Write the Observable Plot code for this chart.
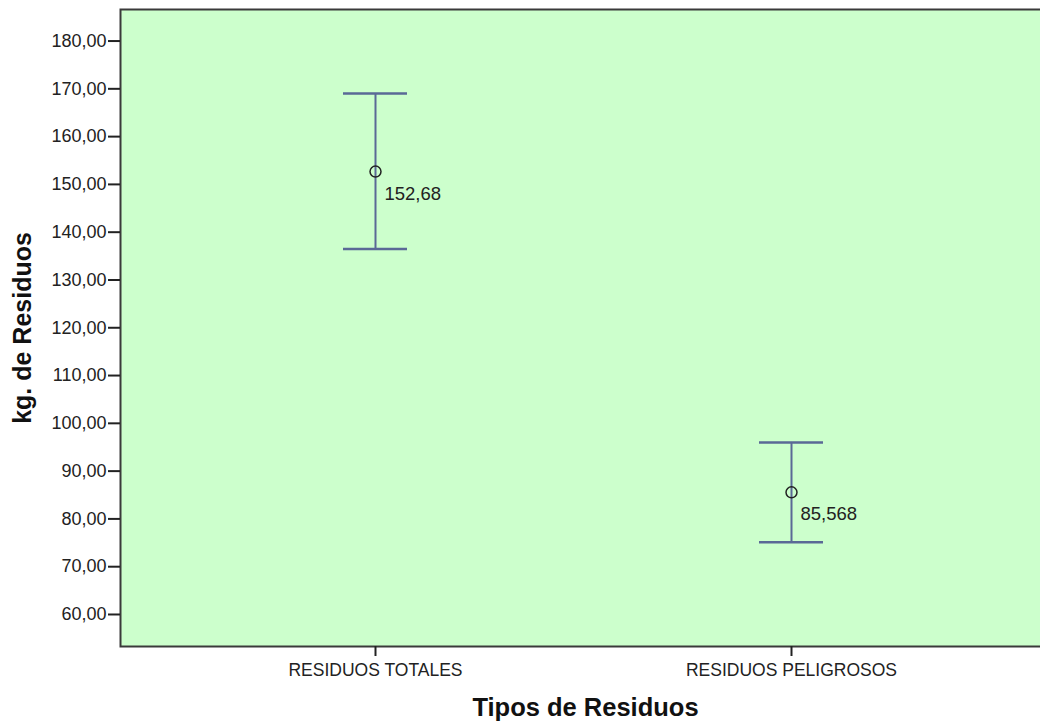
<!DOCTYPE html>
<html>
<head>
<meta charset="utf-8">
<script src="https://cdn.jsdelivr.net/npm/d3@7"></script>
<script src="https://cdn.jsdelivr.net/npm/@observablehq/plot@0.6"></script>
<style>
  html, body { margin: 0; padding: 0; background: #fff; }
  #chart svg { display: block; }
  g[aria-label="y-axis tick"] { stroke-width: 2; }
  g[aria-label="x-axis tick"] { stroke-width: 2; }
</style>
</head>
<body>
<div id="chart"></div>
<script>
// Residue types and their mean (kg) with the lower/upper ends of the error bars
const categories = ["RESIDUOS TOTALES", "RESIDUOS PELIGROSOS"];
const means = [152.68, 85.568];
const lower = [136.5, 75.1];
const upper = [169.0, 96.0];
const yTicks = [60, 70, 80, 90, 100, 110, 120, 130, 140, 150, 160, 170, 180];

const rows = categories.map((c, i) => ({cat: c, mean: means[i], lo: lower[i], hi: upper[i]}));
const comma = (v) => String(v).replace(".", ",");

const font = "'Liberation Sans', Arial, sans-serif";
const barColor = "#5a6996";

const chart = Plot.plot({
  width: 1040,
  height: 722,
  marginLeft: 120,
  marginRight: 0,
  marginTop: 9,
  marginBottom: 76,
  style: {fontFamily: font, fontSize: "18px", color: "#222", background: "#fff"},
  x: {type: "band", domain: categories, paddingInner: 0.846, paddingOuter: 0.527, align: 0.508},
  y: {domain: [53.3, 186.6]},
  marks: [
    Plot.frame({fill: "#ccffcc", stroke: "#3a3a3a", strokeWidth: 2, insetRight: -4}),
    Plot.axisY({ticks: yTicks, tickSize: 12, tickPadding: 2, tickFormat: (d) => d.toFixed(2).replace(".", ","), label: null, fontSize: 18}),
    Plot.axisX({tickSize: 10, tickPadding: 7, label: null, fontSize: 17.5}),
    // error bars
    Plot.ruleX(rows, {x: "cat", y1: "lo", y2: "hi", stroke: barColor, strokeWidth: 2}),
    Plot.tickY(rows, {x: "cat", y: "lo", stroke: barColor, strokeWidth: 2.5}),
    Plot.tickY(rows, {x: "cat", y: "hi", stroke: barColor, strokeWidth: 2.5}),
    // means
    Plot.dot(rows, {x: "cat", y: "mean", r: 5.5, stroke: "#222", strokeWidth: 1.5, fill: "none"}),
    Plot.text(rows, {x: "cat", y: "mean", text: (d) => comma(d.mean), textAnchor: "start", dx: 9, dy: 22, fontSize: 18.5, fill: "#222"}),
    // axis titles
    Plot.text(["Tipos de Residuos"], {frameAnchor: "bottom", textAnchor: "middle", dx: 5, dy: 69, fontSize: 25.5, fontWeight: "bold", fill: "#111"}),
    Plot.text(["kg. de Residuos"], {frameAnchor: "left", textAnchor: "middle", dx: -97.5, rotate: -90, fontSize: 25, fontWeight: "bold", fill: "#111"})
  ]
});

document.getElementById("chart").appendChild(chart);
</script>
</body>
</html>
